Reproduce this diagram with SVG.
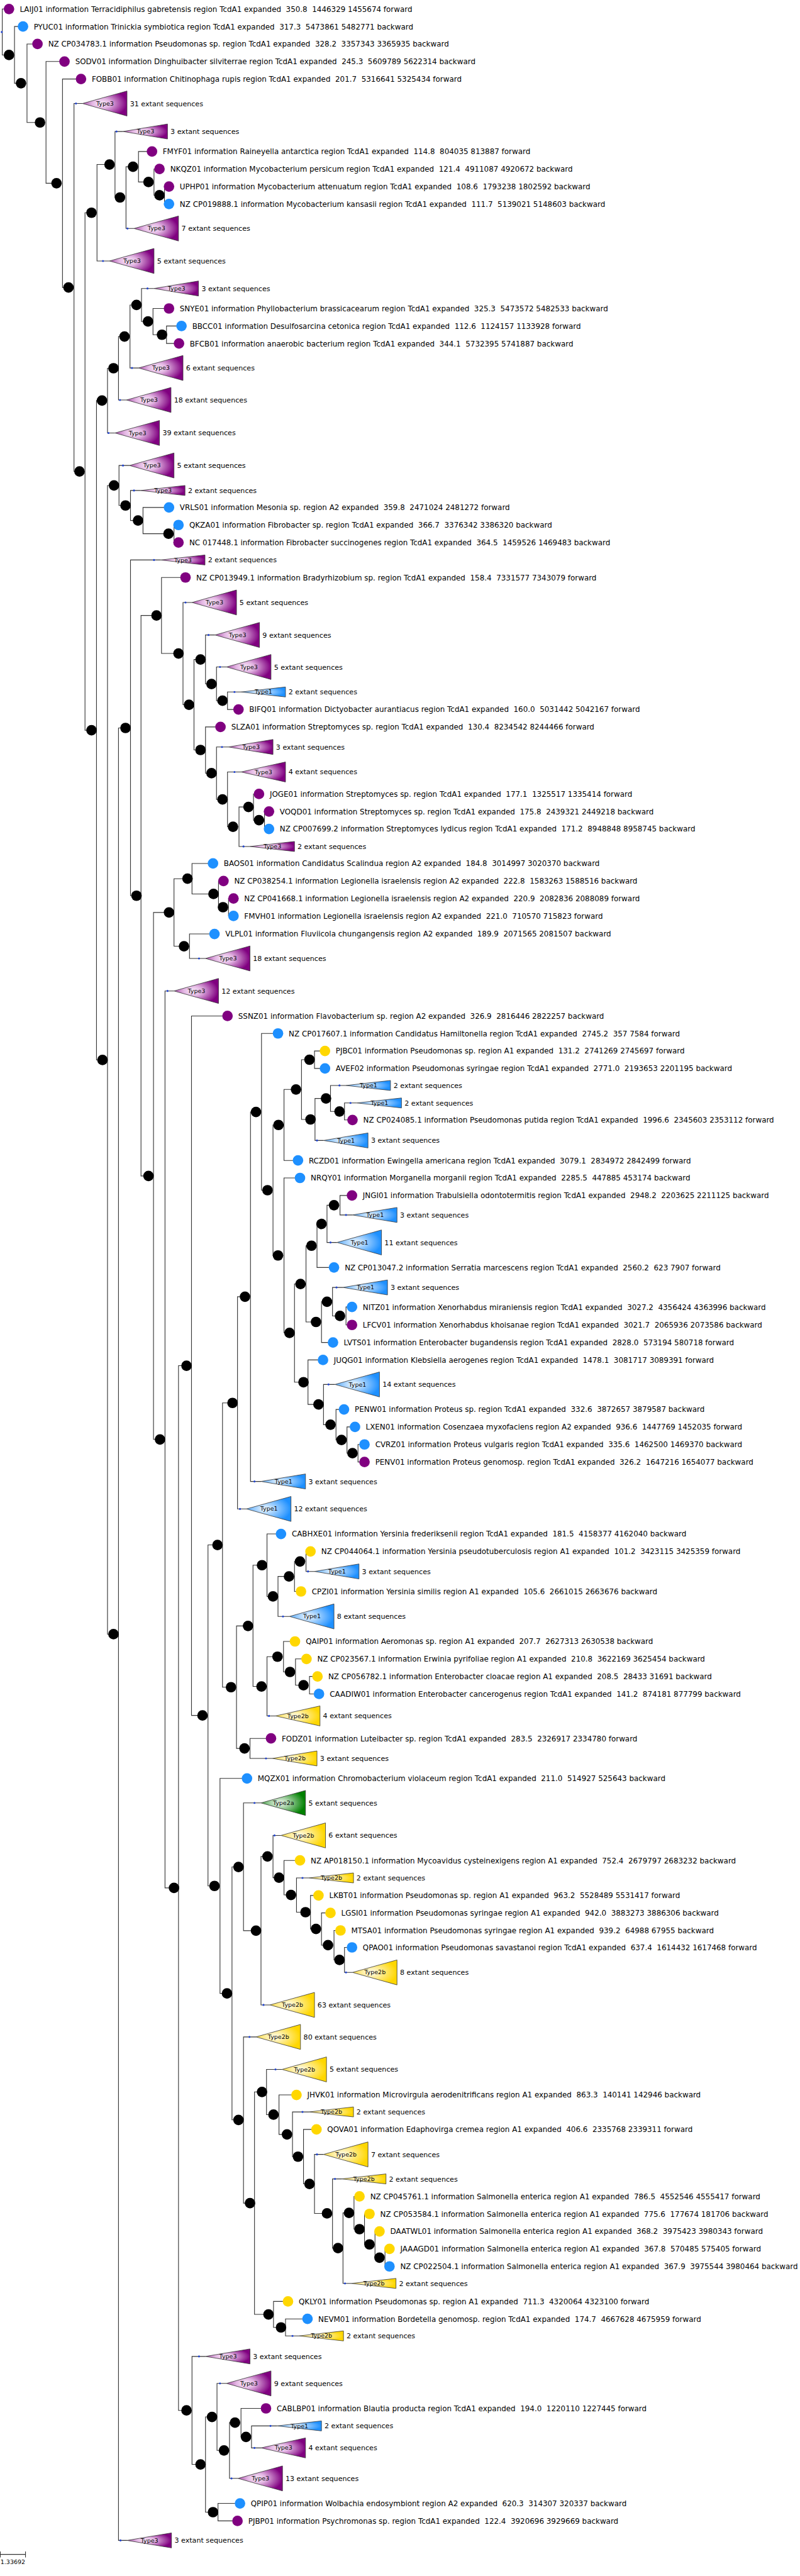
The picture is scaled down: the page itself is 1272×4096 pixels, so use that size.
<svg xmlns="http://www.w3.org/2000/svg" width="1272" height="4096" viewBox="0 0 1272 4096" xml:space="preserve">
<defs>
<style>
.e{fill:none;stroke:#333;stroke-width:1.4}
.n{fill:#000}
.p{fill:#800080}.b{fill:#1e90ff}.y{fill:#ffd700}
.m{fill:#2244cc}
.tr{stroke:#333;stroke-width:1}
.g3{fill:url(#gp)}.g1{fill:url(#gb)}.g2b{fill:url(#gy)}.g2a{fill:url(#gg)}
text{font-family:"DejaVu Sans","Liberation Sans",sans-serif;fill:#000;white-space:pre}
.l{font-size:15px}
.x{font-size:14px}
.k{font-size:12px;text-anchor:middle}
.s{font-size:12px}
</style>
<radialGradient id="gp" cx="0.42" cy="0.5" r="0.58"><stop offset="0" stop-color="#fbeefb"/><stop offset="0.35" stop-color="#e3b6e3"/><stop offset="1" stop-color="#800080"/></radialGradient>
<radialGradient id="gb" cx="0.42" cy="0.5" r="0.58"><stop offset="0" stop-color="#f4faff"/><stop offset="0.35" stop-color="#a9d4ff"/><stop offset="1" stop-color="#1e90ff"/></radialGradient>
<radialGradient id="gy" cx="0.42" cy="0.5" r="0.58"><stop offset="0" stop-color="#fffdf0"/><stop offset="0.35" stop-color="#ffeea0"/><stop offset="1" stop-color="#ffd700"/></radialGradient>
<radialGradient id="gg" cx="0.42" cy="0.5" r="0.58"><stop offset="0" stop-color="#f2f9f2"/><stop offset="0.35" stop-color="#a8d3a8"/><stop offset="1" stop-color="#008000"/></radialGradient>
</defs>
<rect width="1272" height="4096" fill="#fff"/>
<g transform="scale(0.795)">
<g id="connectors">
<path class="e" d="M18 18H4.5V110H18"/>
<path class="e" d="M46 53H29V166.5H42"/>
<path class="e" d="M75 88H54V245H80"/>
<path class="e" d="M129 123H92V366.5H113"/>
<path class="e" d="M162 158H125V575H137"/>
<path class="e" d="M165 207H148V943H159"/>
<path class="e" d="M183 425.5H170V1460.5H183"/>
<path class="e" d="M219 329H194V522H219"/>
<path class="e" d="M246 263H230V395H240"/>
<path class="e" d="M266 333.5H252V457H268"/>
<path class="e" d="M304 303H277V364H297"/>
<path class="e" d="M319 338H308V390.5H319"/>
<path class="e" d="M338 373H329V408H338"/>
<path class="e" d="M204 801H193V2120H205"/>
<path class="e" d="M227 736.5H215V866H230"/>
<path class="e" d="M249 673H237V800H253"/>
<path class="e" d="M273 610H260V736H277"/>
<path class="e" d="M308 577H283V643H296"/>
<path class="e" d="M338 617H306V669.5H324"/>
<path class="e" d="M363 652H333V687H358"/>
<path class="e" d="M228 971H215V3268.5H227"/>
<path class="e" d="M259 931H238V1011H251"/>
<path class="e" d="M281 981H261V1041H276"/>
<path class="e" d="M338 1015H286V1067.5H337"/>
<path class="e" d="M357 1050H348V1085H357"/>
<path class="e" d="M251 1456H237V5081H254"/>
<path class="e" d="M321 1120H261V1791.5H273"/>
<path class="e" d="M313 1231H282V2352H297"/>
<path class="e" d="M371 1155H323V1307H357"/>
<path class="e" d="M384 1205H366V1409.5H378"/>
<path class="e" d="M401 1319H388V1500H401"/>
<path class="e" d="M430 1270H411V1368H423"/>
<path class="e" d="M453 1334H433V1401.5H445"/>
<path class="e" d="M482 1384H455V1419H477"/>
<path class="e" d="M441 1454H411V1546.5H423"/>
<path class="e" d="M457 1494H433V1599H445"/>
<path class="e" d="M482 1544H455V1653.5H466"/>
<path class="e" d="M497 1614H478V1693H500"/>
<path class="e" d="M518 1588H507V1640.5H518"/>
<path class="e" d="M538 1623H529V1658H538"/>
<path class="e" d="M338 1825H307V2879H320"/>
<path class="e" d="M375 1757.5H348V1892.5H368"/>
<path class="e" d="M426 1727H384V1788H427"/>
<path class="e" d="M447 1762H437V1814.5H446"/>
<path class="e" d="M467 1797H457V1832H467"/>
<path class="e" d="M429 1868H379V1917H411"/>
<path class="e" d="M348 1982H330V3776H348"/>
<path class="e" d="M373 2731.5H357V4821H373"/>
<path class="e" d="M455 2032H383V3431H405"/>
<path class="e" d="M435 3090H416V3772H429"/>
<path class="e" d="M465 2806H445V3374.5H462"/>
<path class="e" d="M490 2593.5H475V3018H493"/>
<path class="e" d="M512 2224H501V2963H522"/>
<path class="e" d="M556 2067H523V2380.5H535"/>
<path class="e" d="M557 2250H546V2511H556"/>
<path class="e" d="M592 2179H568V2321H596"/>
<path class="e" d="M619 2119.5H603V2239H621"/>
<path class="e" d="M650 2102H629V2137H650"/>
<path class="e" d="M652 2197H630V2281H647"/>
<path class="e" d="M692 2171H661V2223H679"/>
<path class="e" d="M714 2206H689V2240H705"/>
<path class="e" d="M600 2356H568V2666H579"/>
<path class="e" d="M601 2568H589V2764.5H607"/>
<path class="e" d="M623 2491.5H612V2644H632"/>
<path class="e" d="M643 2448H634V2535H668"/>
<path class="e" d="M668 2410.5H654V2485H674"/>
<path class="e" d="M704 2391H680V2430H705"/>
<path class="e" d="M654 2603.5H643V2685H666"/>
<path class="e" d="M686 2575H665V2632H680"/>
<path class="e" d="M704 2614H692V2650H704"/>
<path class="e" d="M646 2720H616V2809H637"/>
<path class="e" d="M670 2769H647V2849.5H661"/>
<path class="e" d="M688 2819H672V2880H683"/>
<path class="e" d="M710 2854H694V2906.5H705"/>
<path class="e" d="M729 2889H716V2924H729"/>
<path class="e" d="M496 3252H473V3497H489"/>
<path class="e" d="M524 3130.5H506V3373H523"/>
<path class="e" d="M562 3068H534V3193H546"/>
<path class="e" d="M578 3153H556V3233H579"/>
<path class="e" d="M600 3123H589V3183H602"/>
<path class="e" d="M621 3103H612V3143H629"/>
<path class="e" d="M555 3313.5H534V3432H551"/>
<path class="e" d="M590 3283H567V3344H580"/>
<path class="e" d="M613 3318H591V3370.5H607"/>
<path class="e" d="M635 3353H619V3388H638"/>
<path class="e" d="M542 3477H500V3517H545"/>
<path class="e" d="M494 3557H440V3987H454"/>
<path class="e" d="M477 3734H464V4240H477"/>
<path class="e" d="M522 3606H487V3861.5H512"/>
<path class="e" d="M535 3713H522V4010H540"/>
<path class="e" d="M562 3671H546V3755.5H558"/>
<path class="e" d="M600 3721H568V3790H582"/>
<path class="e" d="M618 3756H593V3824.5H611"/>
<path class="e" d="M637 3791H621V3858H632"/>
<path class="e" d="M661 3826H643V3890.5H656"/>
<path class="e" d="M681 3861H668V3920H679"/>
<path class="e" d="M704 3895H689V3945H705"/>
<path class="e" d="M512 4074H487V4406.5H500"/>
<path class="e" d="M524 4184H509V4629H537"/>
<path class="e" d="M564 4139H533V4229.5H547"/>
<path class="e" d="M593 4190H558V4269H574"/>
<path class="e" d="M618 4224H585V4313.5H596"/>
<path class="e" d="M633 4259H607V4368H619"/>
<path class="e" d="M647 4309H629V4427H654"/>
<path class="e" d="M683 4358H665V4496.5H676"/>
<path class="e" d="M698 4426H686V4567H703"/>
<path class="e" d="M719 4393H708V4458.5H719"/>
<path class="e" d="M739 4428H729V4489H739"/>
<path class="e" d="M759 4463H750V4515.5H759"/>
<path class="e" d="M779 4498H770V4533H779"/>
<path class="e" d="M576 4603H547V4655H562"/>
<path class="e" d="M615 4638H571V4672H598"/>
<path class="e" d="M411 4713H384V4929H401"/>
<path class="e" d="M424 4834H411V5024.5H426"/>
<path class="e" d="M453 4767H434V4901H448"/>
<path class="e" d="M470 4845.5H459V4957H476"/>
<path class="e" d="M532 4817H482V4874H492"/>
<path class="e" d="M554 4852H503V4896H522"/>
<path class="e" d="M480 5007H436V5042H475"/>
</g>
<g id="internal-nodes">
<g id="root"><circle class="m" cx="3.5" cy="64" r="2"/></g>
<g id="n-A"><circle class="n" cx="18" cy="110" r="10.5"/></g>
<g id="n-B"><circle class="n" cx="42" cy="166.5" r="10.5"/></g>
<g id="n-C"><circle class="n" cx="80" cy="245" r="10.5"/></g>
<g id="n-D"><circle class="n" cx="113" cy="366.5" r="10.5"/></g>
<g id="n-E"><circle class="n" cx="137" cy="575" r="10.5"/></g>
<g id="n-F"><circle class="n" cx="159" cy="943" r="10.5"/></g>
<g id="n-I1"><circle class="n" cx="183" cy="425.5" r="10.5"/></g>
<g id="n-H1"><circle class="n" cx="219" cy="329" r="10.5"/></g>
<g id="n-H2"><circle class="n" cx="240" cy="395" r="10.5"/></g>
<g id="n-G1"><circle class="n" cx="266" cy="333.5" r="10.5"/></g>
<g id="n-G2"><circle class="n" cx="297" cy="364" r="10.5"/></g>
<g id="n-G3"><circle class="n" cx="319" cy="390.5" r="10.5"/></g>
<g id="n-M"><circle class="n" cx="183" cy="1460.5" r="10.5"/></g>
<g id="n-L"><circle class="n" cx="204" cy="801" r="10.5"/></g>
<g id="n-K"><circle class="n" cx="227" cy="736.5" r="10.5"/></g>
<g id="n-J0"><circle class="n" cx="249" cy="673" r="10.5"/></g>
<g id="n-J1"><circle class="n" cx="273" cy="610" r="10.5"/></g>
<g id="n-J2"><circle class="n" cx="296" cy="643" r="10.5"/></g>
<g id="n-J3"><circle class="n" cx="324" cy="669.5" r="10.5"/></g>
<g id="n-N"><circle class="n" cx="205" cy="2120" r="10.5"/></g>
<g id="n-O"><circle class="n" cx="228" cy="971" r="10.5"/></g>
<g id="n-O2"><circle class="n" cx="251" cy="1011" r="10.5"/></g>
<g id="n-O3"><circle class="n" cx="276" cy="1041" r="10.5"/></g>
<g id="n-O4"><circle class="n" cx="337" cy="1067.5" r="10.5"/></g>
<g id="n-P"><circle class="n" cx="227" cy="3268.5" r="10.5"/></g>
<g id="n-S"><circle class="n" cx="251" cy="1456" r="10.5"/></g>
<g id="n-S2"><circle class="n" cx="273" cy="1791.5" r="10.5"/></g>
<g id="n-R1"><circle class="n" cx="313" cy="1231" r="10.5"/></g>
<g id="n-Q1"><circle class="n" cx="357" cy="1307" r="10.5"/></g>
<g id="n-Q2"><circle class="n" cx="378" cy="1409.5" r="10.5"/></g>
<g id="n-Q3"><circle class="n" cx="401" cy="1319" r="10.5"/></g>
<g id="n-Q4"><circle class="n" cx="423" cy="1368" r="10.5"/></g>
<g id="n-Q5"><circle class="n" cx="445" cy="1401.5" r="10.5"/></g>
<g id="n-Q6"><circle class="n" cx="401" cy="1500" r="10.5"/></g>
<g id="n-Q7"><circle class="n" cx="423" cy="1546.5" r="10.5"/></g>
<g id="n-Q8"><circle class="n" cx="445" cy="1599" r="10.5"/></g>
<g id="n-Q9"><circle class="n" cx="466" cy="1653.5" r="10.5"/></g>
<g id="n-Q10"><circle class="n" cx="497" cy="1614" r="10.5"/></g>
<g id="n-Q11"><circle class="n" cx="518" cy="1640.5" r="10.5"/></g>
<g id="n-S3"><circle class="n" cx="297" cy="2352" r="10.5"/></g>
<g id="n-U0"><circle class="n" cx="338" cy="1825" r="10.5"/></g>
<g id="n-U1"><circle class="n" cx="375" cy="1757.5" r="10.5"/></g>
<g id="n-U2"><circle class="n" cx="427" cy="1788" r="10.5"/></g>
<g id="n-U3"><circle class="n" cx="446" cy="1814.5" r="10.5"/></g>
<g id="n-U4"><circle class="n" cx="368" cy="1892.5" r="10.5"/></g>
<g id="n-V"><circle class="n" cx="320" cy="2879" r="10.5"/></g>
<g id="n-W"><circle class="n" cx="348" cy="3776" r="10.5"/></g>
<g id="n-Z1"><circle class="n" cx="373" cy="2731.5" r="10.5"/></g>
<g id="n-Z2"><circle class="n" cx="405" cy="3431" r="10.5"/></g>
<g id="n-Y0"><circle class="n" cx="435" cy="3090" r="10.5"/></g>
<g id="n-Y1"><circle class="n" cx="465" cy="2806" r="10.5"/></g>
<g id="n-X0"><circle class="n" cx="490" cy="2593.5" r="10.5"/></g>
<g id="n-X1"><circle class="n" cx="512" cy="2224" r="10.5"/></g>
<g id="n-X2"><circle class="n" cx="535" cy="2380.5" r="10.5"/></g>
<g id="n-X5"><circle class="n" cx="557" cy="2250" r="10.5"/></g>
<g id="n-X6"><circle class="n" cx="592" cy="2179" r="10.5"/></g>
<g id="n-X7"><circle class="n" cx="619" cy="2119.5" r="10.5"/></g>
<g id="n-X8"><circle class="n" cx="621" cy="2239" r="10.5"/></g>
<g id="n-X9"><circle class="n" cx="652" cy="2197" r="10.5"/></g>
<g id="n-X10"><circle class="n" cx="679" cy="2223" r="10.5"/></g>
<g id="n-X3"><circle class="n" cx="556" cy="2511" r="10.5"/></g>
<g id="n-X4"><circle class="n" cx="579" cy="2666" r="10.5"/></g>
<g id="n-X11"><circle class="n" cx="601" cy="2568" r="10.5"/></g>
<g id="n-X13"><circle class="n" cx="623" cy="2491.5" r="10.5"/></g>
<g id="n-X15"><circle class="n" cx="643" cy="2448" r="10.5"/></g>
<g id="n-X16"><circle class="n" cx="668" cy="2410.5" r="10.5"/></g>
<g id="n-X14"><circle class="n" cx="632" cy="2644" r="10.5"/></g>
<g id="n-X17"><circle class="n" cx="654" cy="2603.5" r="10.5"/></g>
<g id="n-X18"><circle class="n" cx="680" cy="2632" r="10.5"/></g>
<g id="n-X12"><circle class="n" cx="607" cy="2764.5" r="10.5"/></g>
<g id="n-X19"><circle class="n" cx="637" cy="2809" r="10.5"/></g>
<g id="n-X20"><circle class="n" cx="661" cy="2849.5" r="10.5"/></g>
<g id="n-X21"><circle class="n" cx="683" cy="2880" r="10.5"/></g>
<g id="n-X22"><circle class="n" cx="705" cy="2906.5" r="10.5"/></g>
<g id="n-Y2"><circle class="n" cx="462" cy="3374.5" r="10.5"/></g>
<g id="n-Y4"><circle class="n" cx="496" cy="3252" r="10.5"/></g>
<g id="n-Y5"><circle class="n" cx="524" cy="3130.5" r="10.5"/></g>
<g id="n-Y7"><circle class="n" cx="546" cy="3193" r="10.5"/></g>
<g id="n-Y8"><circle class="n" cx="578" cy="3153" r="10.5"/></g>
<g id="n-Y9"><circle class="n" cx="600" cy="3123" r="10.5"/></g>
<g id="n-Y6"><circle class="n" cx="523" cy="3373" r="10.5"/></g>
<g id="n-Y10"><circle class="n" cx="555" cy="3313.5" r="10.5"/></g>
<g id="n-Y11"><circle class="n" cx="580" cy="3344" r="10.5"/></g>
<g id="n-Y12"><circle class="n" cx="607" cy="3370.5" r="10.5"/></g>
<g id="n-Y3"><circle class="n" cx="489" cy="3497" r="10.5"/></g>
<g id="n-Z4"><circle class="n" cx="429" cy="3772" r="10.5"/></g>
<g id="n-AB"><circle class="n" cx="454" cy="3987" r="10.5"/></g>
<g id="n-AA1"><circle class="n" cx="477" cy="3734" r="10.5"/></g>
<g id="n-AA2"><circle class="n" cx="512" cy="3861.5" r="10.5"/></g>
<g id="n-AA3"><circle class="n" cx="535" cy="3713" r="10.5"/></g>
<g id="n-AA4"><circle class="n" cx="558" cy="3755.5" r="10.5"/></g>
<g id="n-AA5"><circle class="n" cx="582" cy="3790" r="10.5"/></g>
<g id="n-AA6"><circle class="n" cx="611" cy="3824.5" r="10.5"/></g>
<g id="n-AA7"><circle class="n" cx="632" cy="3858" r="10.5"/></g>
<g id="n-AA8"><circle class="n" cx="656" cy="3890.5" r="10.5"/></g>
<g id="n-AA9"><circle class="n" cx="679" cy="3920" r="10.5"/></g>
<g id="n-AC"><circle class="n" cx="477" cy="4240" r="10.5"/></g>
<g id="n-AD"><circle class="n" cx="500" cy="4406.5" r="10.5"/></g>
<g id="n-AE1"><circle class="n" cx="524" cy="4184" r="10.5"/></g>
<g id="n-AE3"><circle class="n" cx="547" cy="4229.5" r="10.5"/></g>
<g id="n-AE4"><circle class="n" cx="574" cy="4269" r="10.5"/></g>
<g id="n-AE5"><circle class="n" cx="596" cy="4313.5" r="10.5"/></g>
<g id="n-AE6"><circle class="n" cx="619" cy="4368" r="10.5"/></g>
<g id="n-AE7"><circle class="n" cx="654" cy="4427" r="10.5"/></g>
<g id="n-AE8"><circle class="n" cx="676" cy="4496.5" r="10.5"/></g>
<g id="n-AE9"><circle class="n" cx="698" cy="4426" r="10.5"/></g>
<g id="n-AE10"><circle class="n" cx="719" cy="4458.5" r="10.5"/></g>
<g id="n-AE11"><circle class="n" cx="739" cy="4489" r="10.5"/></g>
<g id="n-AE12"><circle class="n" cx="759" cy="4515.5" r="10.5"/></g>
<g id="n-AE2"><circle class="n" cx="537" cy="4629" r="10.5"/></g>
<g id="n-AE13"><circle class="n" cx="562" cy="4655" r="10.5"/></g>
<g id="n-Z3"><circle class="n" cx="373" cy="4821" r="10.5"/></g>
<g id="n-Z5"><circle class="n" cx="401" cy="4929" r="10.5"/></g>
<g id="n-Z6"><circle class="n" cx="424" cy="4834" r="10.5"/></g>
<g id="n-Z8"><circle class="n" cx="448" cy="4901" r="10.5"/></g>
<g id="n-Z9"><circle class="n" cx="470" cy="4845.5" r="10.5"/></g>
<g id="n-Z10"><circle class="n" cx="492" cy="4874" r="10.5"/></g>
<g id="n-Z7"><circle class="n" cx="426" cy="5024.5" r="10.5"/></g>
</g>
<g id="leaves" xml:space="preserve">
<g id="leaf-LAIJ01"><circle class="p" cx="18" cy="18" r="10.5"/><text class="l" x="39.5" y="23.5">LAIJ01 information Terracidiphilus gabretensis region TcdA1 expanded  350.8  1446329 1455674 forward</text></g>
<g id="leaf-PYUC01"><circle class="b" cx="46" cy="53" r="10.5"/><text class="l" x="67.5" y="58.5">PYUC01 information Trinickia symbiotica region TcdA1 expanded  317.3  5473861 5482771 backward</text></g>
<g id="leaf-CP034783"><circle class="p" cx="75" cy="88" r="10.5"/><text class="l" x="96.5" y="93.5">NZ CP034783.1 information Pseudomonas sp. region TcdA1 expanded  328.2  3357343 3365935 backward</text></g>
<g id="leaf-SODV01"><circle class="p" cx="129" cy="123" r="10.5"/><text class="l" x="150.5" y="128.5">SODV01 information Dinghuibacter silviterrae region TcdA1 expanded  245.3  5609789 5622314 backward</text></g>
<g id="leaf-FOBB01"><circle class="p" cx="162" cy="158" r="10.5"/><text class="l" x="183.5" y="163.5">FOBB01 information Chitinophaga rupis region TcdA1 expanded  201.7  5316641 5325434 forward</text></g>
<g id="leaf-FMYF01"><circle class="p" cx="304" cy="303" r="10.5"/><text class="l" x="325.5" y="308.5">FMYF01 information Raineyella antarctica region TcdA1 expanded  114.8  804035 813887 forward</text></g>
<g id="leaf-NKQZ01"><circle class="p" cx="319" cy="338" r="10.5"/><text class="l" x="340.5" y="343.5">NKQZ01 information Mycobacterium persicum region TcdA1 expanded  121.4  4911087 4920672 backward</text></g>
<g id="leaf-UPHP01"><circle class="p" cx="338" cy="373" r="10.5"/><text class="l" x="359.5" y="378.5">UPHP01 information Mycobacterium attenuatum region TcdA1 expanded  108.6  1793238 1802592 backward</text></g>
<g id="leaf-CP019888"><circle class="b" cx="338" cy="408" r="10.5"/><text class="l" x="359.5" y="413.5">NZ CP019888.1 information Mycobacterium kansasii region TcdA1 expanded  111.7  5139021 5148603 backward</text></g>
<g id="leaf-SNYE01"><circle class="p" cx="338" cy="617" r="10.5"/><text class="l" x="359.5" y="622.5">SNYE01 information Phyllobacterium brassicacearum region TcdA1 expanded  325.3  5473572 5482533 backward</text></g>
<g id="leaf-BBCC01"><circle class="b" cx="363" cy="652" r="10.5"/><text class="l" x="384.5" y="657.5">BBCC01 information Desulfosarcina cetonica region TcdA1 expanded  112.6  1124157 1133928 forward</text></g>
<g id="leaf-BFCB01"><circle class="p" cx="358" cy="687" r="10.5"/><text class="l" x="379.5" y="692.5">BFCB01 information anaerobic bacterium region TcdA1 expanded  344.1  5732395 5741887 backward</text></g>
<g id="leaf-VRLS01"><circle class="b" cx="338" cy="1015" r="10.5"/><text class="l" x="359.5" y="1020.5">VRLS01 information Mesonia sp. region A2 expanded  359.8  2471024 2481272 forward</text></g>
<g id="leaf-QKZA01"><circle class="b" cx="357" cy="1050" r="10.5"/><text class="l" x="378.5" y="1055.5">QKZA01 information Fibrobacter sp. region TcdA1 expanded  366.7  3376342 3386320 backward</text></g>
<g id="leaf-NC017448"><circle class="p" cx="357" cy="1085" r="10.5"/><text class="l" x="378.5" y="1090.5">NC 017448.1 information Fibrobacter succinogenes region TcdA1 expanded  364.5  1459526 1469483 backward</text></g>
<g id="leaf-CP013949"><circle class="p" cx="371" cy="1155" r="10.5"/><text class="l" x="392.5" y="1160.5">NZ CP013949.1 information Bradyrhizobium sp. region TcdA1 expanded  158.4  7331577 7343079 forward</text></g>
<g id="leaf-BIFQ01"><circle class="p" cx="477" cy="1419" r="10.5"/><text class="l" x="498.5" y="1424.5">BIFQ01 information Dictyobacter aurantiacus region TcdA1 expanded  160.0  5031442 5042167 forward</text></g>
<g id="leaf-SLZA01"><circle class="p" cx="441" cy="1454" r="10.5"/><text class="l" x="462.5" y="1459.5">SLZA01 information Streptomyces sp. region TcdA1 expanded  130.4  8234542 8244466 forward</text></g>
<g id="leaf-JOGE01"><circle class="p" cx="518" cy="1588" r="10.5"/><text class="l" x="539.5" y="1593.5">JOGE01 information Streptomyces sp. region TcdA1 expanded  177.1  1325517 1335414 forward</text></g>
<g id="leaf-VOQD01"><circle class="p" cx="538" cy="1623" r="10.5"/><text class="l" x="559.5" y="1628.5">VOQD01 information Streptomyces sp. region TcdA1 expanded  175.8  2439321 2449218 backward</text></g>
<g id="leaf-CP007699"><circle class="b" cx="538" cy="1658" r="10.5"/><text class="l" x="559.5" y="1663.5">NZ CP007699.2 information Streptomyces lydicus region TcdA1 expanded  171.2  8948848 8958745 backward</text></g>
<g id="leaf-BAOS01"><circle class="b" cx="426" cy="1727" r="10.5"/><text class="l" x="447.5" y="1732.5">BAOS01 information Candidatus Scalindua region A2 expanded  184.8  3014997 3020370 backward</text></g>
<g id="leaf-CP038254"><circle class="p" cx="447" cy="1762" r="10.5"/><text class="l" x="468.5" y="1767.5">NZ CP038254.1 information Legionella israelensis region A2 expanded  222.8  1583263 1588516 backward</text></g>
<g id="leaf-CP041668"><circle class="p" cx="467" cy="1797" r="10.5"/><text class="l" x="488.5" y="1802.5">NZ CP041668.1 information Legionella israelensis region A2 expanded  220.9  2082836 2088089 forward</text></g>
<g id="leaf-FMVH01"><circle class="b" cx="467" cy="1832" r="10.5"/><text class="l" x="488.5" y="1837.5">FMVH01 information Legionella israelensis region A2 expanded  221.0  710570 715823 forward</text></g>
<g id="leaf-VLPL01"><circle class="b" cx="429" cy="1868" r="10.5"/><text class="l" x="450.5" y="1873.5">VLPL01 information Fluviicola chungangensis region A2 expanded  189.9  2071565 2081507 backward</text></g>
<g id="leaf-SSNZ01"><circle class="p" cx="455" cy="2032" r="10.5"/><text class="l" x="476.5" y="2037.5">SSNZ01 information Flavobacterium sp. region A2 expanded  326.9  2816446 2822257 backward</text></g>
<g id="leaf-CP017607"><circle class="b" cx="556" cy="2067" r="10.5"/><text class="l" x="577.5" y="2072.5">NZ CP017607.1 information Candidatus Hamiltonella region TcdA1 expanded  2745.2  357 7584 forward</text></g>
<g id="leaf-PJBC01"><circle class="y" cx="650" cy="2102" r="10.5"/><text class="l" x="671.5" y="2107.5">PJBC01 information Pseudomonas sp. region A1 expanded  131.2  2741269 2745697 forward</text></g>
<g id="leaf-AVEF02"><circle class="b" cx="650" cy="2137" r="10.5"/><text class="l" x="671.5" y="2142.5">AVEF02 information Pseudomonas syringae region TcdA1 expanded  2771.0  2193653 2201195 backward</text></g>
<g id="leaf-CP024085"><circle class="p" cx="705" cy="2240" r="10.5"/><text class="l" x="726.5" y="2245.5">NZ CP024085.1 information Pseudomonas putida region TcdA1 expanded  1996.6  2345603 2353112 forward</text></g>
<g id="leaf-RCZD01"><circle class="b" cx="596" cy="2321" r="10.5"/><text class="l" x="617.5" y="2326.5">RCZD01 information Ewingella americana region TcdA1 expanded  3079.1  2834972 2842499 forward</text></g>
<g id="leaf-NRQY01"><circle class="b" cx="600" cy="2356" r="10.5"/><text class="l" x="621.5" y="2361.5">NRQY01 information Morganella morganii region TcdA1 expanded  2285.5  447885 453174 backward</text></g>
<g id="leaf-JNGI01"><circle class="p" cx="704" cy="2391" r="10.5"/><text class="l" x="725.5" y="2396.5">JNGI01 information Trabulsiella odontotermitis region TcdA1 expanded  2948.2  2203625 2211125 backward</text></g>
<g id="leaf-CP013047"><circle class="b" cx="668" cy="2535" r="10.5"/><text class="l" x="689.5" y="2540.5">NZ CP013047.2 information Serratia marcescens region TcdA1 expanded  2560.2  623 7907 forward</text></g>
<g id="leaf-NITZ01"><circle class="b" cx="704" cy="2614" r="10.5"/><text class="l" x="725.5" y="2619.5">NITZ01 information Xenorhabdus miraniensis region TcdA1 expanded  3027.2  4356424 4363996 backward</text></g>
<g id="leaf-LFCV01"><circle class="p" cx="704" cy="2650" r="10.5"/><text class="l" x="725.5" y="2655.5">LFCV01 information Xenorhabdus khoisanae region TcdA1 expanded  3021.7  2065936 2073586 backward</text></g>
<g id="leaf-LVTS01"><circle class="b" cx="666" cy="2685" r="10.5"/><text class="l" x="687.5" y="2690.5">LVTS01 information Enterobacter bugandensis region TcdA1 expanded  2828.0  573194 580718 forward</text></g>
<g id="leaf-JUQG01"><circle class="b" cx="646" cy="2720" r="10.5"/><text class="l" x="667.5" y="2725.5">JUQG01 information Klebsiella aerogenes region TcdA1 expanded  1478.1  3081717 3089391 forward</text></g>
<g id="leaf-PENW01"><circle class="b" cx="688" cy="2819" r="10.5"/><text class="l" x="709.5" y="2824.5">PENW01 information Proteus sp. region TcdA1 expanded  332.6  3872657 3879587 backward</text></g>
<g id="leaf-LXEN01"><circle class="b" cx="710" cy="2854" r="10.5"/><text class="l" x="731.5" y="2859.5">LXEN01 information Cosenzaea myxofaciens region A2 expanded  936.6  1447769 1452035 forward</text></g>
<g id="leaf-CVRZ01"><circle class="b" cx="729" cy="2889" r="10.5"/><text class="l" x="750.5" y="2894.5">CVRZ01 information Proteus vulgaris region TcdA1 expanded  335.6  1462500 1469370 backward</text></g>
<g id="leaf-PENV01"><circle class="p" cx="729" cy="2924" r="10.5"/><text class="l" x="750.5" y="2929.5">PENV01 information Proteus genomosp. region TcdA1 expanded  326.2  1647216 1654077 backward</text></g>
<g id="leaf-CABHXE01"><circle class="b" cx="562" cy="3068" r="10.5"/><text class="l" x="583.5" y="3073.5">CABHXE01 information Yersinia frederiksenii region TcdA1 expanded  181.5  4158377 4162040 backward</text></g>
<g id="leaf-CP044064"><circle class="y" cx="621" cy="3103" r="10.5"/><text class="l" x="642.5" y="3108.5">NZ CP044064.1 information Yersinia pseudotuberculosis region A1 expanded  101.2  3423115 3425359 forward</text></g>
<g id="leaf-CPZI01"><circle class="y" cx="602" cy="3183" r="10.5"/><text class="l" x="623.5" y="3188.5">CPZI01 information Yersinia similis region A1 expanded  105.6  2661015 2663676 backward</text></g>
<g id="leaf-QAIP01"><circle class="y" cx="590" cy="3283" r="10.5"/><text class="l" x="611.5" y="3288.5">QAIP01 information Aeromonas sp. region A1 expanded  207.7  2627313 2630538 backward</text></g>
<g id="leaf-CP023567"><circle class="y" cx="613" cy="3318" r="10.5"/><text class="l" x="634.5" y="3323.5">NZ CP023567.1 information Erwinia pyrifoliae region A1 expanded  210.8  3622169 3625454 backward</text></g>
<g id="leaf-CP056782"><circle class="y" cx="635" cy="3353" r="10.5"/><text class="l" x="656.5" y="3358.5">NZ CP056782.1 information Enterobacter cloacae region A1 expanded  208.5  28433 31691 backward</text></g>
<g id="leaf-CAADIW01"><circle class="b" cx="638" cy="3388" r="10.5"/><text class="l" x="659.5" y="3393.5">CAADIW01 information Enterobacter cancerogenus region TcdA1 expanded  141.2  874181 877799 backward</text></g>
<g id="leaf-FODZ01"><circle class="p" cx="542" cy="3477" r="10.5"/><text class="l" x="563.5" y="3482.5">FODZ01 information Luteibacter sp. region TcdA1 expanded  283.5  2326917 2334780 forward</text></g>
<g id="leaf-MQZX01"><circle class="b" cx="494" cy="3557" r="10.5"/><text class="l" x="515.5" y="3562.5">MQZX01 information Chromobacterium violaceum region TcdA1 expanded  211.0  514927 525643 backward</text></g>
<g id="leaf-AP018150"><circle class="y" cx="600" cy="3721" r="10.5"/><text class="l" x="621.5" y="3726.5">NZ AP018150.1 information Mycoavidus cysteinexigens region A1 expanded  752.4  2679797 2683232 backward</text></g>
<g id="leaf-LKBT01"><circle class="y" cx="637" cy="3791" r="10.5"/><text class="l" x="658.5" y="3796.5">LKBT01 information Pseudomonas sp. region A1 expanded  963.2  5528489 5531417 forward</text></g>
<g id="leaf-LGSI01"><circle class="y" cx="661" cy="3826" r="10.5"/><text class="l" x="682.5" y="3831.5">LGSI01 information Pseudomonas syringae region A1 expanded  942.0  3883273 3886306 backward</text></g>
<g id="leaf-MTSA01"><circle class="y" cx="681" cy="3861" r="10.5"/><text class="l" x="702.5" y="3866.5">MTSA01 information Pseudomonas syringae region A1 expanded  939.2  64988 67955 backward</text></g>
<g id="leaf-QPAO01"><circle class="b" cx="704" cy="3895" r="10.5"/><text class="l" x="725.5" y="3900.5">QPAO01 information Pseudomonas savastanoi region TcdA1 expanded  637.4  1614432 1617468 forward</text></g>
<g id="leaf-JHVK01"><circle class="y" cx="593" cy="4190" r="10.5"/><text class="l" x="614.5" y="4195.5">JHVK01 information Microvirgula aerodenitrificans region A1 expanded  863.3  140141 142946 backward</text></g>
<g id="leaf-QOVA01"><circle class="y" cx="633" cy="4259" r="10.5"/><text class="l" x="654.5" y="4264.5">QOVA01 information Edaphovirga cremea region A1 expanded  406.6  2335768 2339311 forward</text></g>
<g id="leaf-CP045761"><circle class="y" cx="719" cy="4393" r="10.5"/><text class="l" x="740.5" y="4398.5">NZ CP045761.1 information Salmonella enterica region A1 expanded  786.5  4552546 4555417 forward</text></g>
<g id="leaf-CP053584"><circle class="y" cx="739" cy="4428" r="10.5"/><text class="l" x="760.5" y="4433.5">NZ CP053584.1 information Salmonella enterica region A1 expanded  775.6  177674 181706 backward</text></g>
<g id="leaf-DAATWL01"><circle class="y" cx="759" cy="4463" r="10.5"/><text class="l" x="780.5" y="4468.5">DAATWL01 information Salmonella enterica region A1 expanded  368.2  3975423 3980343 forward</text></g>
<g id="leaf-JAAAGD01"><circle class="y" cx="779" cy="4498" r="10.5"/><text class="l" x="800.5" y="4503.5">JAAAGD01 information Salmonella enterica region A1 expanded  367.8  570485 575405 forward</text></g>
<g id="leaf-CP022504"><circle class="b" cx="779" cy="4533" r="10.5"/><text class="l" x="800.5" y="4538.5">NZ CP022504.1 information Salmonella enterica region A1 expanded  367.9  3975544 3980464 backward</text></g>
<g id="leaf-QKLY01"><circle class="y" cx="576" cy="4603" r="10.5"/><text class="l" x="597.5" y="4608.5">QKLY01 information Pseudomonas sp. region A1 expanded  711.3  4320064 4323100 forward</text></g>
<g id="leaf-NEVM01"><circle class="b" cx="615" cy="4638" r="10.5"/><text class="l" x="636.5" y="4643.5">NEVM01 information Bordetella genomosp. region TcdA1 expanded  174.7  4667628 4675959 forward</text></g>
<g id="leaf-CABLBP01"><circle class="p" cx="532" cy="4817" r="10.5"/><text class="l" x="553.5" y="4822.5">CABLBP01 information Blautia producta region TcdA1 expanded  194.0  1220110 1227445 forward</text></g>
<g id="leaf-QPIP01"><circle class="b" cx="480" cy="5007" r="10.5"/><text class="l" x="501.5" y="5012.5">QPIP01 information Wolbachia endosymbiont region A2 expanded  620.3  314307 320337 backward</text></g>
<g id="leaf-PJBP01"><circle class="p" cx="475" cy="5042" r="10.5"/><text class="l" x="496.5" y="5047.5">PJBP01 information Psychromonas sp. region TcdA1 expanded  122.4  3920696 3929669 backward</text></g>
</g>
<g id="collapsed">
<g id="c-31"><circle class="m" cx="152" cy="207" r="2"/><polygon class="tr g3" points="165,207 254,182 254,232"/><text class="k" x="210" y="211">Type3</text><text class="x" x="260" y="212">31 extant sequences</text></g>
<g id="c-3a"><circle class="m" cx="233" cy="263" r="2"/><polygon class="tr g3" points="246,263 335,248 335,278"/><text class="k" x="291" y="267">Type3</text><text class="x" x="341" y="268">3 extant sequences</text></g>
<g id="c-7a"><circle class="m" cx="255" cy="457" r="2"/><polygon class="tr g3" points="268,457 357,432 357,482"/><text class="k" x="313" y="461">Type3</text><text class="x" x="363" y="462">7 extant sequences</text></g>
<g id="c-5a"><circle class="m" cx="206" cy="522" r="2"/><polygon class="tr g3" points="219,522 308,497 308,547"/><text class="k" x="264" y="526">Type3</text><text class="x" x="314" y="527">5 extant sequences</text></g>
<g id="c-3b"><circle class="m" cx="295" cy="577" r="2"/><polygon class="tr g3" points="308,577 397,562 397,592"/><text class="k" x="353" y="581">Type3</text><text class="x" x="403" y="582">3 extant sequences</text></g>
<g id="c-6a"><circle class="m" cx="264" cy="736" r="2"/><polygon class="tr g3" points="277,736 366,711 366,761"/><text class="k" x="322" y="740">Type3</text><text class="x" x="372" y="741">6 extant sequences</text></g>
<g id="c-18a"><circle class="m" cx="240" cy="800" r="2"/><polygon class="tr g3" points="253,800 342,775 342,825"/><text class="k" x="298" y="804">Type3</text><text class="x" x="348" y="805">18 extant sequences</text></g>
<g id="c-39"><circle class="m" cx="217" cy="866" r="2"/><polygon class="tr g3" points="230,866 319,841 319,891"/><text class="k" x="275" y="870">Type3</text><text class="x" x="325" y="871">39 extant sequences</text></g>
<g id="c-5b"><circle class="m" cx="246" cy="931" r="2"/><polygon class="tr g3" points="259,931 348,906 348,956"/><text class="k" x="304" y="935">Type3</text><text class="x" x="354" y="936">5 extant sequences</text></g>
<g id="c-2a"><circle class="m" cx="268" cy="981" r="2"/><polygon class="tr g3" points="281,981 370,971 370,991"/><text class="k" x="326" y="985">Type3</text><text class="x" x="376" y="986">2 extant sequences</text></g>
<g id="c-2b"><circle class="m" cx="308" cy="1120" r="2"/><polygon class="tr g3" points="321,1120 410,1110 410,1130"/><text class="k" x="366" y="1124">Type3</text><text class="x" x="416" y="1125">2 extant sequences</text></g>
<g id="c-5c"><circle class="m" cx="371" cy="1205" r="2"/><polygon class="tr g3" points="384,1205 473,1180 473,1230"/><text class="k" x="429" y="1209">Type3</text><text class="x" x="479" y="1210">5 extant sequences</text></g>
<g id="c-9a"><circle class="m" cx="417" cy="1270" r="2"/><polygon class="tr g3" points="430,1270 519,1245 519,1295"/><text class="k" x="475" y="1274">Type3</text><text class="x" x="525" y="1275">9 extant sequences</text></g>
<g id="c-5d"><circle class="m" cx="440" cy="1334" r="2"/><polygon class="tr g3" points="453,1334 542,1309 542,1359"/><text class="k" x="498" y="1338">Type3</text><text class="x" x="548" y="1339">5 extant sequences</text></g>
<g id="c-2c"><circle class="m" cx="469" cy="1384" r="2"/><polygon class="tr g1" points="482,1384 571,1374 571,1394"/><text class="k" x="527" y="1388">Type1</text><text class="x" x="577" y="1389">2 extant sequences</text></g>
<g id="c-3c"><circle class="m" cx="444" cy="1494" r="2"/><polygon class="tr g3" points="457,1494 546,1479 546,1509"/><text class="k" x="502" y="1498">Type3</text><text class="x" x="552" y="1499">3 extant sequences</text></g>
<g id="c-4a"><circle class="m" cx="469" cy="1544" r="2"/><polygon class="tr g3" points="482,1544 571,1524 571,1564"/><text class="k" x="527" y="1548">Type3</text><text class="x" x="577" y="1549">4 extant sequences</text></g>
<g id="c-2d"><circle class="m" cx="487" cy="1693" r="2"/><polygon class="tr g3" points="500,1693 589,1683 589,1703"/><text class="k" x="545" y="1697">Type3</text><text class="x" x="595" y="1698">2 extant sequences</text></g>
<g id="c-18b"><circle class="m" cx="398" cy="1917" r="2"/><polygon class="tr g3" points="411,1917 500,1892 500,1942"/><text class="k" x="456" y="1921">Type3</text><text class="x" x="506" y="1922">18 extant sequences</text></g>
<g id="c-12a"><circle class="m" cx="335" cy="1982" r="2"/><polygon class="tr g3" points="348,1982 437,1957 437,2007"/><text class="k" x="393" y="1986">Type3</text><text class="x" x="443" y="1987">12 extant sequences</text></g>
<g id="c-2e"><circle class="m" cx="679" cy="2171" r="2"/><polygon class="tr g1" points="692,2171 781,2161 781,2181"/><text class="k" x="737" y="2175">Type1</text><text class="x" x="787" y="2176">2 extant sequences</text></g>
<g id="c-2f"><circle class="m" cx="701" cy="2206" r="2"/><polygon class="tr g1" points="714,2206 803,2196 803,2216"/><text class="k" x="759" y="2210">Type1</text><text class="x" x="809" y="2211">2 extant sequences</text></g>
<g id="c-3d"><circle class="m" cx="634" cy="2281" r="2"/><polygon class="tr g1" points="647,2281 736,2266 736,2296"/><text class="k" x="692" y="2285">Type1</text><text class="x" x="742" y="2286">3 extant sequences</text></g>
<g id="c-3e"><circle class="m" cx="692" cy="2430" r="2"/><polygon class="tr g1" points="705,2430 794,2415 794,2445"/><text class="k" x="750" y="2434">Type1</text><text class="x" x="800" y="2435">3 extant sequences</text></g>
<g id="c-11"><circle class="m" cx="661" cy="2485" r="2"/><polygon class="tr g1" points="674,2485 763,2460 763,2510"/><text class="k" x="719" y="2489">Type1</text><text class="x" x="769" y="2490">11 extant sequences</text></g>
<g id="c-3f"><circle class="m" cx="673" cy="2575" r="2"/><polygon class="tr g1" points="686,2575 775,2560 775,2590"/><text class="k" x="731" y="2579">Type1</text><text class="x" x="781" y="2580">3 extant sequences</text></g>
<g id="c-14"><circle class="m" cx="657" cy="2769" r="2"/><polygon class="tr g1" points="670,2769 759,2744 759,2794"/><text class="k" x="715" y="2773">Type1</text><text class="x" x="765" y="2774">14 extant sequences</text></g>
<g id="c-3g"><circle class="m" cx="509" cy="2963" r="2"/><polygon class="tr g1" points="522,2963 611,2948 611,2978"/><text class="k" x="567" y="2967">Type1</text><text class="x" x="617" y="2968">3 extant sequences</text></g>
<g id="c-12b"><circle class="m" cx="480" cy="3018" r="2"/><polygon class="tr g1" points="493,3018 582,2993 582,3043"/><text class="k" x="538" y="3022">Type1</text><text class="x" x="588" y="3023">12 extant sequences</text></g>
<g id="c-3h"><circle class="m" cx="616" cy="3143" r="2"/><polygon class="tr g1" points="629,3143 718,3128 718,3158"/><text class="k" x="674" y="3147">Type1</text><text class="x" x="724" y="3148">3 extant sequences</text></g>
<g id="c-8a"><circle class="m" cx="566" cy="3233" r="2"/><polygon class="tr g1" points="579,3233 668,3208 668,3258"/><text class="k" x="624" y="3237">Type1</text><text class="x" x="674" y="3238">8 extant sequences</text></g>
<g id="c-4b"><circle class="m" cx="538" cy="3432" r="2"/><polygon class="tr g2b" points="551,3432 640,3412 640,3452"/><text class="k" x="596" y="3436">Type2b</text><text class="x" x="646" y="3437">4 extant sequences</text></g>
<g id="c-3i"><circle class="m" cx="532" cy="3517" r="2"/><polygon class="tr g2b" points="545,3517 634,3502 634,3532"/><text class="k" x="590" y="3521">Type2b</text><text class="x" x="640" y="3522">3 extant sequences</text></g>
<g id="c-5e"><circle class="m" cx="509" cy="3606" r="2"/><polygon class="tr g2a" points="522,3606 611,3581 611,3631"/><text class="k" x="567" y="3610">Type2a</text><text class="x" x="617" y="3611">5 extant sequences</text></g>
<g id="c-6b"><circle class="m" cx="549" cy="3671" r="2"/><polygon class="tr g2b" points="562,3671 651,3646 651,3696"/><text class="k" x="607" y="3675">Type2b</text><text class="x" x="657" y="3676">6 extant sequences</text></g>
<g id="c-2g"><circle class="m" cx="605" cy="3756" r="2"/><polygon class="tr g2b" points="618,3756 707,3746 707,3766"/><text class="k" x="663" y="3760">Type2b</text><text class="x" x="713" y="3761">2 extant sequences</text></g>
<g id="c-8b"><circle class="m" cx="692" cy="3945" r="2"/><polygon class="tr g2b" points="705,3945 794,3920 794,3970"/><text class="k" x="750" y="3949">Type2b</text><text class="x" x="800" y="3950">8 extant sequences</text></g>
<g id="c-63"><circle class="m" cx="527" cy="4010" r="2"/><polygon class="tr g2b" points="540,4010 629,3985 629,4035"/><text class="k" x="585" y="4014">Type2b</text><text class="x" x="635" y="4015">63 extant sequences</text></g>
<g id="c-80"><circle class="m" cx="499" cy="4074" r="2"/><polygon class="tr g2b" points="512,4074 601,4049 601,4099"/><text class="k" x="557" y="4078">Type2b</text><text class="x" x="607" y="4079">80 extant sequences</text></g>
<g id="c-5f"><circle class="m" cx="551" cy="4139" r="2"/><polygon class="tr g2b" points="564,4139 653,4114 653,4164"/><text class="k" x="609" y="4143">Type2b</text><text class="x" x="659" y="4144">5 extant sequences</text></g>
<g id="c-2h"><circle class="m" cx="605" cy="4224" r="2"/><polygon class="tr g2b" points="618,4224 707,4214 707,4234"/><text class="k" x="663" y="4228">Type2b</text><text class="x" x="713" y="4229">2 extant sequences</text></g>
<g id="c-7b"><circle class="m" cx="634" cy="4309" r="2"/><polygon class="tr g2b" points="647,4309 736,4284 736,4334"/><text class="k" x="692" y="4313">Type2b</text><text class="x" x="742" y="4314">7 extant sequences</text></g>
<g id="c-2i"><circle class="m" cx="670" cy="4358" r="2"/><polygon class="tr g2b" points="683,4358 772,4348 772,4368"/><text class="k" x="728" y="4362">Type2b</text><text class="x" x="778" y="4363">2 extant sequences</text></g>
<g id="c-2j"><circle class="m" cx="690" cy="4567" r="2"/><polygon class="tr g2b" points="703,4567 792,4557 792,4577"/><text class="k" x="748" y="4571">Type2b</text><text class="x" x="798" y="4572">2 extant sequences</text></g>
<g id="c-2k"><circle class="m" cx="585" cy="4672" r="2"/><polygon class="tr g2b" points="598,4672 687,4662 687,4682"/><text class="k" x="643" y="4676">Type2b</text><text class="x" x="693" y="4677">2 extant sequences</text></g>
<g id="c-3j"><circle class="m" cx="398" cy="4713" r="2"/><polygon class="tr g3" points="411,4713 500,4698 500,4728"/><text class="k" x="456" y="4717">Type3</text><text class="x" x="506" y="4718">3 extant sequences</text></g>
<g id="c-9b"><circle class="m" cx="440" cy="4767" r="2"/><polygon class="tr g3" points="453,4767 542,4742 542,4792"/><text class="k" x="498" y="4771">Type3</text><text class="x" x="548" y="4772">9 extant sequences</text></g>
<g id="c-2l"><circle class="m" cx="541" cy="4852" r="2"/><polygon class="tr g1" points="554,4852 643,4842 643,4862"/><text class="k" x="599" y="4856">Type1</text><text class="x" x="649" y="4857">2 extant sequences</text></g>
<g id="c-4c"><circle class="m" cx="509" cy="4896" r="2"/><polygon class="tr g3" points="522,4896 611,4876 611,4916"/><text class="k" x="567" y="4900">Type3</text><text class="x" x="617" y="4901">4 extant sequences</text></g>
<g id="c-13"><circle class="m" cx="463" cy="4957" r="2"/><polygon class="tr g3" points="476,4957 565,4932 565,4982"/><text class="k" x="521" y="4961">Type3</text><text class="x" x="571" y="4962">13 extant sequences</text></g>
<g id="c-3k"><circle class="m" cx="241" cy="5081" r="2"/><polygon class="tr g3" points="254,5081 343,5066 343,5096"/><text class="k" x="299" y="5085">Type3</text><text class="x" x="349" y="5086">3 extant sequences</text></g>
</g>
<g id="scale-bar">
<path class="e" d="M0.5 5109H51M0.5 5103V5115M51 5103V5115"/>
<text class="s" x="1" y="5128">1.33692</text>
</g>
</g>
</svg>
